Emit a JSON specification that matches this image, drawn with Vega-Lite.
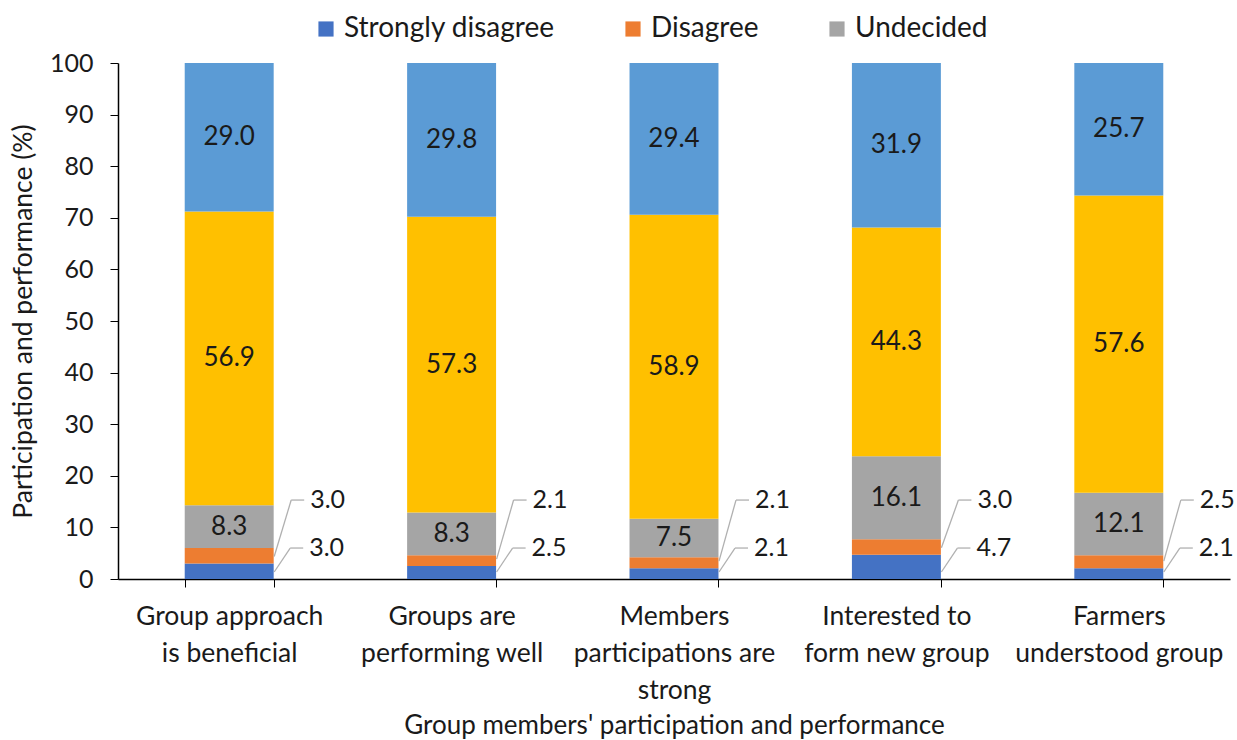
{
  "$schema": "https://vega.github.io/schema/vega-lite/v6.json",
  "width": 1112,
  "height": 516,
  "autosize": {"type": "none"},
  "padding": {"left": 118, "top": 63, "right": 7, "bottom": 161},
  "background": "white",
  "config": {
    "font": "Lato",
    "view": {"stroke": null},
    "axis": {"labelColor": "#1a1a1a", "titleColor": "#1a1a1a", "domainColor": "#000000", "tickColor": "#000000", "grid": false, "labelFont": "Lato", "titleFont": "Lato", "titleFontWeight": "normal"}
  },
  "data": {
    "values": [
      {"cat": "Group approach is beneficial", "series": "Strongly disagree", "order": 1, "value": 3.0},
      {"cat": "Group approach is beneficial", "series": "Disagree", "order": 2, "value": 3.0},
      {"cat": "Group approach is beneficial", "series": "Undecided", "order": 3, "value": 8.3},
      {"cat": "Group approach is beneficial", "series": "Agree", "order": 4, "value": 56.9},
      {"cat": "Group approach is beneficial", "series": "Strongly agree", "order": 5, "value": 29.0},
      {"cat": "Groups are performing well", "series": "Strongly disagree", "order": 1, "value": 2.5},
      {"cat": "Groups are performing well", "series": "Disagree", "order": 2, "value": 2.1},
      {"cat": "Groups are performing well", "series": "Undecided", "order": 3, "value": 8.3},
      {"cat": "Groups are performing well", "series": "Agree", "order": 4, "value": 57.3},
      {"cat": "Groups are performing well", "series": "Strongly agree", "order": 5, "value": 29.8},
      {"cat": "Members participations are strong", "series": "Strongly disagree", "order": 1, "value": 2.1},
      {"cat": "Members participations are strong", "series": "Disagree", "order": 2, "value": 2.1},
      {"cat": "Members participations are strong", "series": "Undecided", "order": 3, "value": 7.5},
      {"cat": "Members participations are strong", "series": "Agree", "order": 4, "value": 58.9},
      {"cat": "Members participations are strong", "series": "Strongly agree", "order": 5, "value": 29.4},
      {"cat": "Interested to form new group", "series": "Strongly disagree", "order": 1, "value": 4.7},
      {"cat": "Interested to form new group", "series": "Disagree", "order": 2, "value": 3.0},
      {"cat": "Interested to form new group", "series": "Undecided", "order": 3, "value": 16.1},
      {"cat": "Interested to form new group", "series": "Agree", "order": 4, "value": 44.3},
      {"cat": "Interested to form new group", "series": "Strongly agree", "order": 5, "value": 31.9},
      {"cat": "Farmers understood group", "series": "Strongly disagree", "order": 1, "value": 2.1},
      {"cat": "Farmers understood group", "series": "Disagree", "order": 2, "value": 2.5},
      {"cat": "Farmers understood group", "series": "Undecided", "order": 3, "value": 12.1},
      {"cat": "Farmers understood group", "series": "Agree", "order": 4, "value": 57.6},
      {"cat": "Farmers understood group", "series": "Strongly agree", "order": 5, "value": 25.7}
    ]
  },
  "encoding": {
    "x": {
      "field": "cat", "type": "nominal", "sort": null,
      "scale": {"paddingInner": 0.6, "paddingOuter": 0.3},
      "axis": {
        "labelAngle": 0, "labelFontSize": 26.5, "labelPadding": 16, "labelLineHeight": 37, "labelBaseline": "top", "labelLimit": 400,
        "tickBand": "extent", "tickSize": 8, "domainWidth": 1.5,
        "labelExpr": "{'Group approach is beneficial': ['Group approach', 'is beneficial'], 'Groups are performing well': ['Groups are', 'performing well'], 'Members participations are strong': ['Members', 'participations are', 'strong'], 'Interested to form new group': ['Interested to', 'form new group'], 'Farmers understood group': ['Farmers', 'understood group']}[datum.value]",
        "title": "Group members' participation and performance", "titleFontSize": 26, "titlePadding": 9
      }
    }
  },
  "layer": [
    {
      "mark": {"type": "bar", "clip": true},
      "encoding": {
        "y": {"field": "value", "type": "quantitative", "stack": "zero",
          "scale": {"domain": [0, 100], "nice": false},
          "axis": {"values": [0, 10, 20, 30, 40, 50, 60, 70, 80, 90, 100], "labelFontSize": 25, "tickSize": 8, "labelPadding": 17, "domainWidth": 1.5,
            "title": "Participation and performance (%)", "titleFontSize": 26.5, "titlePadding": 12}},
        "color": {"field": "series", "type": "nominal",
          "scale": {"domain": ["Strongly disagree", "Disagree", "Undecided", "Agree", "Strongly agree"], "range": ["#4472C4", "#ED7D31", "#A5A5A5", "#FFC000", "#5B9BD5"]},
          "legend": {"values": ["Strongly disagree", "Disagree", "Undecided"], "title": null, "orient": "none", "direction": "horizontal", "legendX": 194, "legendY": -48,
            "symbolType": "square", "symbolSize": 230, "symbolStrokeWidth": 0, "labelFontSize": 28, "labelColor": "#1a1a1a", "labelOffset": 4, "labelLimit": 400, "columnPadding": 64}},
        "order": {"field": "order", "type": "quantitative"}
      }
    },
    {
      "mark": {"type": "text", "fontSize": 26, "color": "#1a1a1a", "baseline": "middle"},
      "encoding": {
        "y": {"field": "value", "type": "quantitative", "stack": "zero", "bandPosition": 0.5},
        "detail": {"field": "series"},
        "order": {"field": "order", "type": "quantitative"},
        "text": {"condition": {"test": "datum.order <= 2", "value": ""}, "field": "value", "type": "quantitative", "format": ".1f"}
      }
    },
    {
      "transform": [
        {"stack": "value", "groupby": ["cat"], "sort": [{"field": "order", "order": "ascending"}], "as": ["v0", "v1"]},
        {"filter": "datum.order == 1"}
      ],
      "layer": [
        {
          "mark": {"type": "rule", "color": "#b0b0b0", "strokeWidth": 1.3, "xOffset": 45, "x2Offset": 61, "yOffset": -7},
          "encoding": {"y": {"field": "v0", "type": "quantitative"}, "y2": {"datum": 6.0}, "x2": {"field": "cat"}}
        },
        {
          "mark": {"type": "rule", "color": "#b0b0b0", "strokeWidth": 1.3, "xOffset": 61, "x2Offset": 74},
          "encoding": {"y": {"datum": 6.0, "type": "quantitative"}, "x2": {"field": "cat"}}
        },
        {
          "mark": {"type": "text", "fontSize": 25, "color": "#1a1a1a", "align": "left", "baseline": "middle", "xOffset": 80},
          "encoding": {"y": {"datum": 6.0, "type": "quantitative"}, "text": {"field": "value", "type": "quantitative", "format": ".1f"}}
        }
      ]
    },
    {
      "transform": [
        {"stack": "value", "groupby": ["cat"], "sort": [{"field": "order", "order": "ascending"}], "as": ["v0", "v1"]},
        {"filter": "datum.order == 2"}
      ],
      "layer": [
        {
          "mark": {"type": "rule", "color": "#b0b0b0", "strokeWidth": 1.3, "xOffset": 45, "x2Offset": 62, "yOffset": -7},
          "encoding": {"y": {"field": "v0", "type": "quantitative"}, "y2": {"datum": 15.3}, "x2": {"field": "cat"}}
        },
        {
          "mark": {"type": "rule", "color": "#b0b0b0", "strokeWidth": 1.3, "xOffset": 62, "x2Offset": 75},
          "encoding": {"y": {"datum": 15.3, "type": "quantitative"}, "x2": {"field": "cat"}}
        },
        {
          "mark": {"type": "text", "fontSize": 25, "color": "#1a1a1a", "align": "left", "baseline": "middle", "xOffset": 81},
          "encoding": {"y": {"datum": 15.3, "type": "quantitative"}, "text": {"field": "value", "type": "quantitative", "format": ".1f"}}
        }
      ]
    }
  ]
}
